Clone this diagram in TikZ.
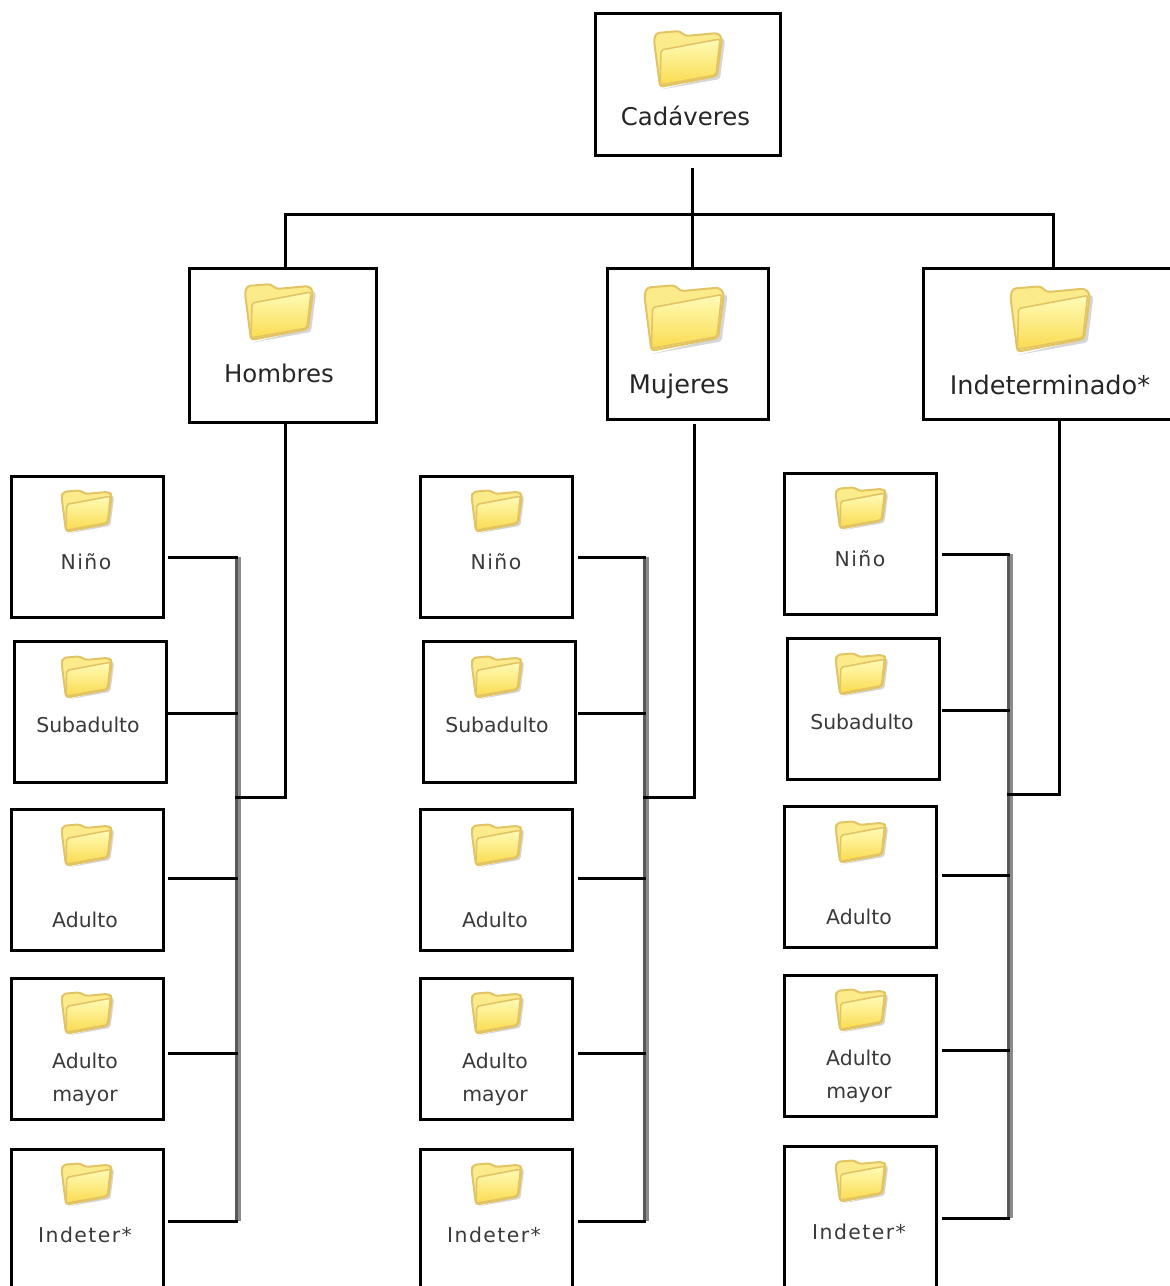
\documentclass[tikz,border=0pt]{standalone}
\usepackage{fontspec}
\setmainfont{DejaVu Sans}
\newfontfamily\wideleaf[LetterSpace=7]{DejaVu Sans}
\usetikzlibrary{positioning}

\definecolor{folderedge}{HTML}{E2C465}
\definecolor{folderback}{HTML}{FBEB8A}
\definecolor{folderpale}{HTML}{FFFCB8}
\definecolor{folderdeep}{HTML}{FADB50}
\definecolor{leaftext}{HTML}{3A3A3A}

\tikzset{
	box/.style={draw,line width=2.25pt,inner sep=0pt},
	topbox/.style={box,minimum width=138.75pt,minimum height=106.5pt},
	leafbox/.style={box,minimum width=114pt,minimum height=105.75pt},
	toplabel/.style={font=\fontsize{18.3}{22}\selectfont,text=black!85,inner sep=0pt},
	biglabel/.style={font=\fontsize{19.2}{22}\selectfont,text=black!85,inner sep=0pt},
	leaflabel/.style={font=\fontsize{15.3}{24.75}\selectfont,text=leaftext,inner sep=0pt,align=center},
	spacedlabel/.style={font=\wideleaf\fontsize{15.3}{24.75}\selectfont,text=leaftext,inner sep=0pt},
	wire/.style={line width=2.25pt,line cap=rect},
	spinedark/.style={line width=2.25pt,black!65},
	spinegrey/.style={line width=2.25pt,black!45},
	folder/.pic={
		\fill[black!16,rounded corners=2] (-28,31) -- (33,20) -- (38,-19) -- (35,-21) -- (30,17) -- cycle;
		\filldraw[draw=folderedge,fill=folderback,line width=1.5pt,line join=round,rounded corners=2.5]
			(-31,-26) -- (-7,-28) -- (-2,-23) -- (31,-26) -- (35,-21) -- (30,17) -- (-27,28) -- (-33,-19) -- cycle;
		\draw[draw=folderedge,top color=folderpale,bottom color=folderdeep,line width=1.2pt,line join=round,rounded corners=1.5]
			(-26,-9) -- (33,-20) -- (29,16) -- (-27,26) -- cycle;
	}
}

\begin{document}
\begin{tikzpicture}[x=0.75pt,y=-0.75pt]
	\path[use as bounding box,clip] (0,0) rectangle (1170,1286);

	% upper level
	\node[topbox] (cadaveres) at (687.5,84) {};
	\pic[scale=1] at (687,59) {folder};
	\node[toplabel] (lcadaveres) at (685.5,116) {Cadáveres};
	\node[topbox,minimum width=140.25pt,minimum height=115.5pt] (hombres) at (282.5,345) {};
	\pic[scale=1] at (278,312) {folder};
	\node[toplabel] (lhombres) at (279,373) {Hombres};
	\node[topbox,minimum width=120.75pt,minimum height=113.25pt] (mujeres) at (687.5,343.5) {};
	\pic[scale=1.17] at (683,318) {folder};
	\node[biglabel] (lmujeres) at (679,386) {Mujeres};
	\node[topbox,minimum width=186.75pt,minimum height=113.25pt] (indeterminado) at (1047.5,343.5) {};
	\pic[scale=1.17] at (1049,319) {folder};
	\node[biglabel] (lindeterminado) at (1050,385) {Indeterminado*};

	% first column
	\node[leafbox] (nino1) at (87,546.5) {};
	\pic[scale=.74] at (86,511) {folder};
	\node[spacedlabel] (lnino1) at (86,562) {Niño};
	\node[leafbox] (sub1) at (90,711.5) {};
	\pic[scale=.74] at (86,677) {folder};
	\node[leaflabel] (lsub1) at (88,725) {Subadulto};
	\node[leafbox] (adulto1) at (87,879.5) {};
	\pic[scale=.74] at (86,845) {folder};
	\node[leaflabel] (ladulto1) at (85,920) {Adulto};
	\node[leafbox] (mayor1) at (87,1048.5) {};
	\pic[scale=.74] at (86,1013) {folder};
	\node[leaflabel] (lmayor1) at (85,1079.5) {Adulto\\mayor};
	\node[leafbox] (indet1) at (87,1219.5) {};
	\pic[scale=.74] at (86,1184) {folder};
	\node[spacedlabel] (lindet1) at (85,1235) {Indeter*};

	% second column
	\node[leafbox] (nino2) at (496,546.5) {};
	\pic[scale=.74] at (496,511) {folder};
	\node[spacedlabel] (lnino2) at (496,562) {Niño};
	\node[leafbox] (sub2) at (499,711.5) {};
	\pic[scale=.74] at (496,677) {folder};
	\node[leaflabel] (lsub2) at (497,725) {Subadulto};
	\node[leafbox] (adulto2) at (496,879.5) {};
	\pic[scale=.74] at (496,845) {folder};
	\node[leaflabel] (ladulto2) at (495,920) {Adulto};
	\node[leafbox] (mayor2) at (496,1048.5) {};
	\pic[scale=.74] at (496,1013) {folder};
	\node[leaflabel] (lmayor2) at (495,1079.5) {Adulto\\mayor};
	\node[leafbox] (indet2) at (496,1219.5) {};
	\pic[scale=.74] at (496,1184) {folder};
	\node[spacedlabel] (lindet2) at (494,1235) {Indeter*};

	% third column
	\node[leafbox] (nino3) at (860.5,543.5) {};
	\pic[scale=.74] at (860,508) {folder};
	\node[spacedlabel] (lnino3) at (860,559) {Niño};
	\node[leafbox] (sub3) at (863.5,708.5) {};
	\pic[scale=.74] at (860,674) {folder};
	\node[leaflabel] (lsub3) at (862,722) {Subadulto};
	\node[leafbox] (adulto3) at (860.5,876.5) {};
	\pic[scale=.74] at (860,842) {folder};
	\node[leaflabel] (ladulto3) at (859,917) {Adulto};
	\node[leafbox] (mayor3) at (860.5,1045.5) {};
	\pic[scale=.74] at (860,1010) {folder};
	\node[leaflabel] (lmayor3) at (859,1076.5) {Adulto\\mayor};
	\node[leafbox] (indet3) at (860.5,1216.5) {};
	\pic[scale=.74] at (860,1181) {folder};
	\node[spacedlabel] (lindet3) at (859,1232) {Indeter*};

	% free ends of the connectors
	\coordinate (stem) at (692,169);
	\coordinate (bus) at (692,214);
	\coordinate (busl) at (285,214);
	\coordinate (busr) at (1053,214);
	\coordinate (sp1a) at (236.5,557);
	\coordinate (sp1b) at (236.5,1221);
	\coordinate (sp2a) at (644,557);
	\coordinate (sp2b) at (644,1221);
	\coordinate (sp3a) at (1008.5,554);
	\coordinate (sp3b) at (1008.5,1218);
	\coordinate (st1) at (285,797);
	\coordinate (st2) at (694,797);
	\coordinate (st3) at (1059,794);
	\coordinate (st2a) at (694,425);

	% spines, with their grey edge
	\draw[spinegrey] ([xshift=2.25pt]sp1a) -- ([xshift=2.25pt]sp1b);
	\draw[spinegrey] ([xshift=2.25pt]sp2a) -- ([xshift=2.25pt]sp2b);
	\draw[spinegrey] ([xshift=2.25pt]sp3a) -- ([xshift=2.25pt]sp3b);
	\draw[spinedark] (sp1a) -- (sp1b);
	\draw[spinedark] (sp2a) -- (sp2b);
	\draw[spinedark] (sp3a) -- (sp3b);

	% upper connectors
	\draw[wire] (stem) -- (bus);
	\draw[wire] (busl) -- (busr);
	\draw[wire] (busl) -- (busl |- hombres.north);
	\draw[wire] (bus) -- (bus |- mujeres.north);
	\draw[wire] (busr) -- (busr |- indeterminado.north);
	\draw[wire] (st1 |- hombres.south) -- (st1) -- (st1 -| sp1a);
	\draw[wire] (st2a) -- (st2) -- (st2 -| sp2a);
	\draw[wire] (st3 |- indeterminado.south) -- (st3) -- (st3 -| sp3a);

	% leaf connectors
	\coordinate (n1) at (169,557);
	\coordinate (s1) at (169,713);
	\coordinate (a1) at (169,878);
	\coordinate (m1) at (169,1053);
	\coordinate (i1) at (169,1221);
	\draw[wire] (n1) -- (n1 -| sp1a);
	\draw[wire] (s1) -- (s1 -| sp1a);
	\draw[wire] (a1) -- (a1 -| sp1a);
	\draw[wire] (m1) -- (m1 -| sp1a);
	\draw[wire] (i1) -- (i1 -| sp1a);
	\coordinate (n2) at (579,557);
	\coordinate (s2) at (579,713);
	\coordinate (a2) at (579,878);
	\coordinate (m2) at (579,1053);
	\coordinate (i2) at (579,1221);
	\draw[wire] (n2) -- (n2 -| sp2a);
	\draw[wire] (s2) -- (s2 -| sp2a);
	\draw[wire] (a2) -- (a2 -| sp2a);
	\draw[wire] (m2) -- (m2 -| sp2a);
	\draw[wire] (i2) -- (i2 -| sp2a);
	\coordinate (n3) at (943,554);
	\coordinate (s3) at (943,710);
	\coordinate (a3) at (943,875);
	\coordinate (m3) at (943,1050);
	\coordinate (i3) at (943,1218);
	\draw[wire] (n3) -- (n3 -| sp3a);
	\draw[wire] (s3) -- (s3 -| sp3a);
	\draw[wire] (a3) -- (a3 -| sp3a);
	\draw[wire] (m3) -- (m3 -| sp3a);
	\draw[wire] (i3) -- (i3 -| sp3a);
\end{tikzpicture}
\end{document}
